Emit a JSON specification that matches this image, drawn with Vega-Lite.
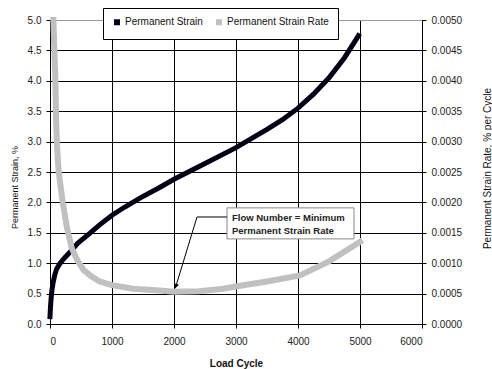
{
  "$schema": "https://vega.github.io/schema/vega-lite/v6.json",
  "width": 372,
  "height": 304,
  "autosize": "none",
  "padding": {"left": 50, "top": 20, "right": 70, "bottom": 45},
  "background": "white",
  "config": {
    "view": {"stroke": "#999999", "strokeWidth": 1},
    "font": "Liberation Sans",
    "axis": {
      "labelFont": "Liberation Sans",
      "labelFontSize": 10,
      "labelColor": "#222222",
      "labelOverlap": false,
      "domainColor": "black",
      "tickColor": "black",
      "tickSize": 4,
      "gridColor": "black",
      "gridOpacity": 1,
      "gridWidth": 1,
      "titleFont": "Liberation Sans",
      "titleColor": "#111111",
      "titleFontWeight": "normal"
    }
  },
  "datasets": {
    "strain": [
      {"cycle": 0, "strain": 0.12}, {"cycle": 8, "strain": 0.28}, {"cycle": 18, "strain": 0.42},
      {"cycle": 30, "strain": 0.55}, {"cycle": 50, "strain": 0.68}, {"cycle": 75, "strain": 0.8},
      {"cycle": 105, "strain": 0.9}, {"cycle": 150, "strain": 0.98}, {"cycle": 210, "strain": 1.06},
      {"cycle": 320, "strain": 1.18}, {"cycle": 450, "strain": 1.33}, {"cycle": 650, "strain": 1.5},
      {"cycle": 800, "strain": 1.63}, {"cycle": 1000, "strain": 1.79}, {"cycle": 1200, "strain": 1.92},
      {"cycle": 1450, "strain": 2.07}, {"cycle": 1775, "strain": 2.25}, {"cycle": 2000, "strain": 2.38},
      {"cycle": 2500, "strain": 2.64}, {"cycle": 3000, "strain": 2.9}, {"cycle": 3500, "strain": 3.2},
      {"cycle": 3750, "strain": 3.36}, {"cycle": 4000, "strain": 3.55}, {"cycle": 4250, "strain": 3.78},
      {"cycle": 4500, "strain": 4.05}, {"cycle": 4750, "strain": 4.38}, {"cycle": 4975, "strain": 4.74}
    ],
    "rate": [
      {"cycle": 55, "rate": 0.005}, {"cycle": 70, "rate": 0.0045}, {"cycle": 85, "rate": 0.0041},
      {"cycle": 100, "rate": 0.0033}, {"cycle": 115, "rate": 0.0029}, {"cycle": 140, "rate": 0.0025},
      {"cycle": 205, "rate": 0.002}, {"cycle": 270, "rate": 0.0016}, {"cycle": 350, "rate": 0.00125},
      {"cycle": 440, "rate": 0.00105}, {"cycle": 540, "rate": 0.00089}, {"cycle": 660, "rate": 0.00079},
      {"cycle": 800, "rate": 0.0007}, {"cycle": 1000, "rate": 0.00064}, {"cycle": 1340, "rate": 0.00058},
      {"cycle": 1770, "rate": 0.00055}, {"cycle": 2000, "rate": 0.00053}, {"cycle": 2400, "rate": 0.00054},
      {"cycle": 2800, "rate": 0.00058}, {"cycle": 3016, "rate": 0.00062}, {"cycle": 3500, "rate": 0.0007},
      {"cycle": 4032, "rate": 0.0008}, {"cycle": 4500, "rate": 0.00103}, {"cycle": 5000, "rate": 0.00135}
    ],
    "box": [{"cycle": 2855, "cycle2": 4903, "rate": 0.0014, "rate2": 0.00191}],
    "note": [
      {"cycle": 2935, "rate": 0.00174, "text": "Flow Number = Minimum"},
      {"cycle": 2935, "rate": 0.00153, "text": "Permanent Strain Rate"}
    ],
    "arrow": [
      {"order": 1, "cycle": 2855, "rate": 0.00176},
      {"order": 2, "cycle": 2371, "rate": 0.00176},
      {"order": 3, "cycle": 2030, "rate": 0.00062}
    ],
    "tip": [{"cycle": 2028, "rate": 0.00062}]
  },
  "encoding": {
    "x": {
      "field": "cycle", "type": "quantitative",
      "scale": {"domain": [0, 6000], "nice": false},
      "axis": {
        "values": [0, 1000, 2000, 3000, 4000, 5000, 6000],
        "format": "d", "title": "Load Cycle", "titleFontWeight": "bold", "titleFontSize": 10,
        "labelPadding": 8, "titleY": 39, "titleBaseline": "middle", "grid": true
      }
    }
  },
  "layer": [
    {
      "data": {"name": "strain"},
      "mark": {"type": "line", "strokeWidth": 5, "strokeCap": "square"},
      "encoding": {
        "y": {
          "field": "strain", "type": "quantitative",
          "scale": {"domain": [0, 5], "nice": false},
          "axis": {
            "values": [0, 0.5, 1, 1.5, 2, 2.5, 3, 3.5, 4, 4.5, 5],
            "format": ".1f", "title": "Permanent Strain, %", "titleFontSize": 9,
            "titleAngle": -90, "titleX": -36, "titleY": 167, "titleBaseline": "middle",
            "titleAlign": "center", "labelPadding": 5, "grid": true,
            "gridColor": {"condition": {"test": "datum.value >= 5", "value": "#999999"}, "value": "black"}
          }
        },
        "color": {
          "datum": "Permanent Strain", "type": "nominal",
          "scale": {"domain": ["Permanent Strain", "Permanent Strain Rate"], "range": ["#020214", "#c0c0c0"]},
          "legend": {
            "orient": "none", "legendX": 53, "legendY": -12, "direction": "horizontal", "columns": 2,
            "title": null, "symbolType": "square", "symbolSize": 9, "symbolStrokeWidth": 3,
            "labelFontSize": 10, "labelFont": "Liberation Sans", "labelColor": "#111111",
            "strokeColor": "black", "fillColor": "white", "padding": 9, "columnPadding": 8,
            "labelOffset": 3
          }
        }
      }
    },
    {
      "encoding": {
        "y": {
          "field": "rate", "type": "quantitative",
          "scale": {"domain": [0, 0.005], "nice": false},
          "axis": {
            "orient": "right",
            "values": [0, 0.0005, 0.001, 0.0015, 0.002, 0.0025, 0.003, 0.0035, 0.004, 0.0045, 0.005],
            "format": ".4f", "title": "Permanent Strain Rate, % per Cycle", "titleFontSize": 10,
            "titleAngle": -90, "titleX": 65, "titleY": 148, "titleBaseline": "middle",
            "titleAlign": "center", "labelPadding": 5, "grid": false
          }
        }
      },
      "layer": [
        {
          "data": {"name": "rate"},
          "mark": {"type": "line", "strokeWidth": 6, "strokeCap": "square"},
          "encoding": {
            "color": {"datum": "Permanent Strain Rate", "type": "nominal"}
          }
        },
        {
          "data": {"name": "box"},
          "mark": {"type": "rect", "fill": "white", "stroke": "#888888", "strokeWidth": 1},
          "encoding": {
            "x2": {"field": "cycle2"},
            "y2": {"field": "rate2"}
          }
        },
        {
          "data": {"name": "note"},
          "mark": {"type": "text", "align": "left", "baseline": "middle", "fontWeight": "bold", "fontSize": 9.5, "color": "#222222"},
          "encoding": {
            "text": {"field": "text"}
          }
        },
        {
          "data": {"name": "arrow"},
          "mark": {"type": "line", "color": "black", "strokeWidth": 1},
          "encoding": {
            "order": {"field": "order"}
          }
        },
        {
          "data": {"name": "tip"},
          "mark": {"type": "point", "shape": "triangle-down", "filled": true, "color": "black", "size": 30, "angle": 17, "opacity": 1},
          "encoding": {}
        }
      ]
    }
  ],
  "resolve": {"scale": {"y": "independent"}}
}
